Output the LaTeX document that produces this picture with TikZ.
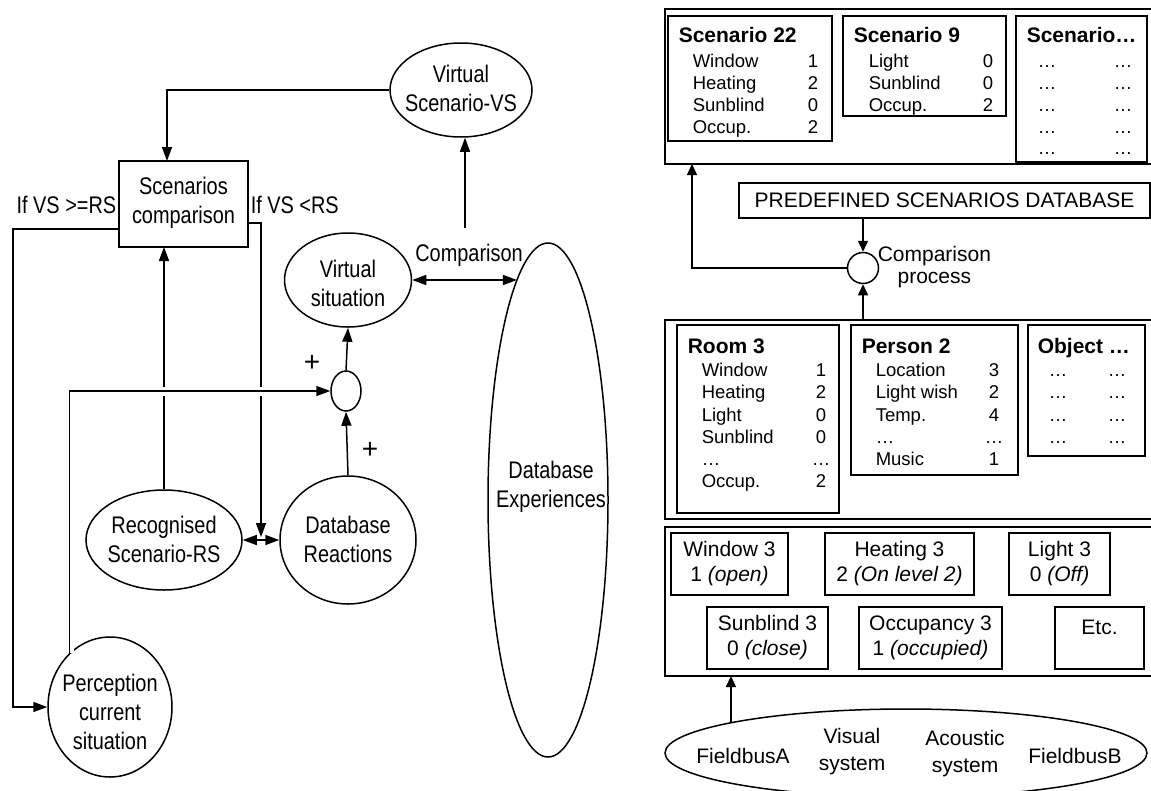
\documentclass[tikz,border=0pt]{standalone}
\usepackage{fontspec}
\setmainfont{Liberation Sans}
\newfontfamily\lf[FakeStretch=0.83]{Liberation Sans}
\usetikzlibrary{arrows.meta,shapes.geometric}
\newcommand\rb[5]{\node[rbox, minimum width={#4-#2}, minimum height={#5-#3}] (#1) at (#2,#3) {};}
\begin{document}
\begin{tikzpicture}[x=1pt,y=-1pt, line width=1.5pt,
  >={Triangle[length=14pt,width=10pt]},
  rt/.tip={Triangle[length=11pt,width=10pt]},
  lt/.style={font=\lf\fontsize{24}{29}\selectfont, align=center, inner sep=0},
  ell/.style={draw, ellipse, inner sep=0, line width=1.5pt},
  rbox/.style={draw, rectangle, inner sep=0, outer sep=0, anchor=north west, line width=1.5pt},
  rl/.style={inner sep=0, font=\fontsize{18.5}{22}\selectfont, text height=13.3pt, text depth=0pt},
  rowl/.style={rl, anchor=west},
  rowv/.style={rl},
  rowt/.style={inner sep=0, anchor=west, font=\bfseries\fontsize{21}{25}\selectfont, text height=15pt, text depth=0pt},
  rtx/.style={inner sep=0, font=\fontsize{21}{25}\selectfont, align=center},
  rtc/.style={inner sep=0, font=\fontsize{21}{25}\selectfont, text height=15pt, text depth=0pt}
]
\useasboundingbox (0,0) rectangle (1151,790);
\clip (0,0) rectangle (1151,790);

% ---------------- left part ----------------
\node[ell, minimum width=142, minimum height=94] (vs) at (461,90) {};
\node[lt] (vst) at (461,88) {Virtual\\Scenario-VS};
\node[draw, line width=1.5pt, minimum width=129, minimum height=86, inner sep=0, outer sep=0] (sc) at (183.5,204) {};
\node[lt] (sct) at (183.5,203) {Scenarios\\comparison};
\node[lt, anchor=east] (l1) at (117,205) {If VS >=RS};
\node[lt, anchor=west] (l2) at (250,205) {If VS <RS};
\node[ell, minimum width=127, minimum height=94] (vsit) at (348,280) {};
\node[lt] (vsitt) at (348,283) {Virtual\\situation};
\node[ell, minimum width=30, minimum height=40] (sum) at (346,391) {};
\node[inner sep=0, font=\fontsize{28}{30}\selectfont] (p1) at (312,363) {+};
\node[inner sep=0, font=\fontsize{28}{30}\selectfont] (p2) at (370,450) {+};
\node[ell, minimum width=156, minimum height=100] (rec) at (164,540) {};
\node[lt] (rect) at (164,539) {Recognised\\Scenario-RS};
\node[ell, minimum width=136, minimum height=128] (dbr) at (348,540) {};
\node[lt] (dbrt) at (348,539) {Database\\Reactions};
\node[ell, minimum width=124, minimum height=140] (perc) at (110,707) {};
\node[lt] (perct) at (110,712) {Perception\\current\\situation};
\node[ell, minimum width=120, minimum height=514] (dbe) at (548,500) {};
\node[lt] (dbet) at (551,487) {Database\\Experiences};
\node[lt] (cmp) at (469,255) {Comparison};

\coordinate (ra) at (261,537);
\coordinate (lc) at (13,500);
\coordinate (cu) at (465,228);

\draw[->] (vs.west) -| ([xshift=-16.5pt]sc.north);
\draw[->] (rec.north) -- (rec.north |- sc.south);
\draw[->] ([yshift=-19pt]sc.east) -| (ra);
\draw[<->] (rec.east) -- (dbr.west);
\draw[->] ([yshift=-25pt]sc.west) -| (lc) |- (perc.west);
\draw[->, preaction={draw=white, line width=9pt, -}] (perc.127) |- (sum.west);
\draw[->] (sum.north) -- (vsit.south);
\draw[->] (dbr.north) -- (sum.south);
\draw[<->] (vsit.east) -- (vsit.east -| dbe.98);
\draw[->] (cu) -- (cu |- vs.south);

% ---------------- right part ----------------
\rb{top}{665}{9}{1165}{164}
\rb{s22}{668}{16}{832}{141}
\rb{s9}{843}{16}{1006}{116}
\rb{sx}{1016}{16}{1147}{162}
\rb{pre}{739}{183}{1150}{218}
\node[inner sep=0, font=\fontsize{21}{24}\selectfont] (pret) at (pre.center) {PREDEFINED SCENARIOS DATABASE};
\node[draw, circle, minimum size=31, inner sep=0] (cp) at (863,268) {};
\node[inner sep=0, anchor=west, align=center, font=\fontsize{21}{22}\selectfont] (cpt) at (877,267) {Comparison\\process};
\rb{mid}{665}{320}{1165}{519}
\rb{room}{677}{325}{839}{513}
\rb{pers}{851}{325}{1018}{475}
\rb{obj}{1028}{325}{1145}{456}
\rb{low}{665}{527}{1165}{676}
\rb{w3}{671}{533}{788}{595}
\rb{h3}{825}{533}{974}{595}
\rb{l3}{1009}{533}{1110}{595}
\rb{sb3}{707}{607}{828}{669}
\rb{oc3}{859}{607}{1002}{669}
\rb{etc}{1055}{607}{1144}{669}
\node[draw, ellipse, minimum width=482, minimum height=88, inner sep=0] (fb) at (906,753) {};

% scenario boxes
\node[rowt] (s22t) at (678,35) {Scenario 22};
\foreach \t/\v [count=\i] in {Window/1,Heating/2,Sunblind/0,Occup./2}{
  \node[rowl] (s22a\i) at (692,{61+21.8*(\i-1)}) {\t};
  \node[rowv] (s22b\i) at (813,{61+21.8*(\i-1)}) {\v};
}
\node[rowt] (s9t) at (853,35) {Scenario 9};
\foreach \t/\v [count=\i] in {Light/0,Sunblind/0,Occup./2}{
  \node[rowl] (s9a\i) at (868,{61+21.8*(\i-1)}) {\t};
  \node[rowv] (s9b\i) at (988,{61+21.8*(\i-1)}) {\v};
}
\node[rowt] (sxt) at (1026,35) {Scenario…};
\foreach \i in {1,...,5}{
  \node[rowv] (sxa\i) at (1047,{61+21.8*(\i-1)}) {…};
  \node[rowv] (sxb\i) at (1123,{61+21.8*(\i-1)}) {…};
}
% room / person / object
\node[rowt] (roomt) at (687,346) {Room 3};
\foreach \t/\v [count=\i] in {Window/1,Heating/2,Light/0,Sunblind/0,…/…,Occup./2}{
  \node[rowl] (rma\i) at (701,{370+22.2*(\i-1)}) {\t};
  \node[rowv] (rmb\i) at (821,{370+22.2*(\i-1)}) {\v};
}
\node[rowt] (perst) at (861,346) {Person 2};
\foreach \t/\v [count=\i] in {Location/3,Light wish/2,Temp./4,…/…,Music/1}{
  \node[rowl] (psa\i) at (875,{370+22.2*(\i-1)}) {\t};
  \node[rowv] (psb\i) at (994,{370+22.2*(\i-1)}) {\v};
}
\node[rowt] (objt) at (1037,346) {Object …};
\foreach \i in {1,...,4}{
  \node[rowv] (oba\i) at (1058,{370+22.2*(\i-1)}) {…};
  \node[rowv] (obb\i) at (1117,{370+22.2*(\i-1)}) {…};
}
% lower boxes
\node[rtx] (w3t) at (w3.center) {Window 3\\1 \textit{(open)}};
\node[rtx] (h3t) at (h3.center) {Heating 3\\2 \textit{(On level 2)}};
\node[rtx] (l3t) at (l3.center) {Light 3\\0 \textit{(Off)}};
\node[rtx] (sb3t) at (sb3.center) {Sunblind 3\\0 \textit{(close)}};
\node[rtx] (oc3t) at (oc3.center) {Occupancy 3\\1 \textit{(occupied)}};
\node[rtc] (etct) at ([yshift=-20pt]etc.north) {Etc.};
% fieldbus texts
\node[rtc] (fba) at (743,756) {FieldbusA};
\node[rtx, font=\fontsize{21}{27}\selectfont] (vis) at (852,752) {Visual\\system};
\node[rtx, font=\fontsize{21}{27}\selectfont] (aco) at (965,754) {Acoustic\\system};
\node[rtc] (fbb) at (1075,756) {FieldbusB};

% right connectors
\draw[-rt] (pre.south -| cp) -- (cp.north);
\draw[-rt] (mid.north -| cp) -- (cp.south);
\draw[-rt] (cp.west) -| ([xshift=27pt]top.south west);
\draw[-rt] (fb.170.5) -- (fb.170.5 |- low.south);
\end{tikzpicture}
\end{document}
